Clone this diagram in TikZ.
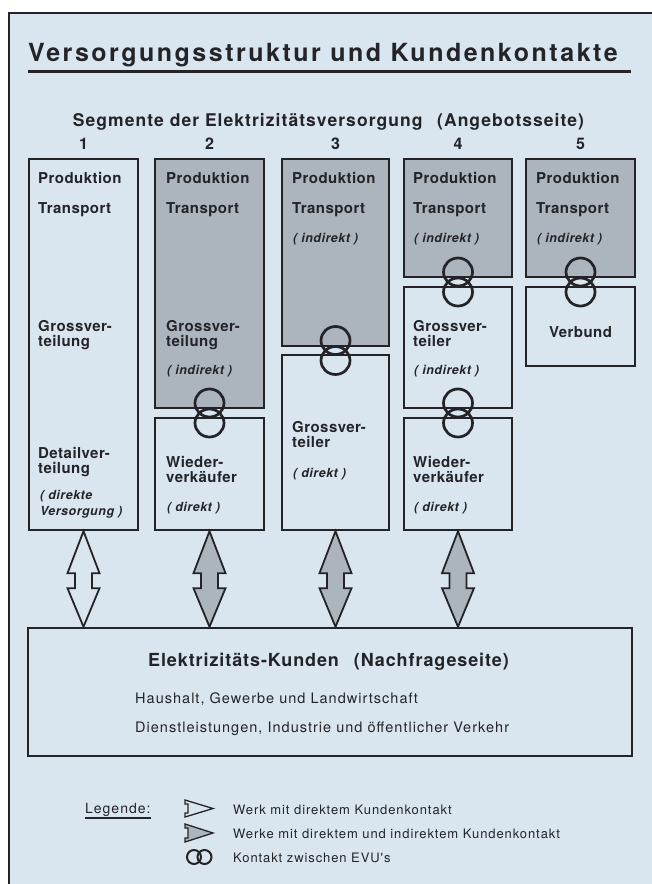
\documentclass[tikz,border=0pt]{standalone}
\usepackage{fontspec}
\setmainfont{TeX Gyre Heros}
\newfontfamily\titlefont[LetterSpace=10]{TeX Gyre Heros}
\newfontfamily\subfont[LetterSpace=6]{TeX Gyre Heros}
\newfontfamily\lblfont[LetterSpace=3]{TeX Gyre Heros}
\newfontfamily\itfont[LetterSpace=4]{TeX Gyre Heros}
\newfontfamily\kdfont[LetterSpace=5]{TeX Gyre Heros}
\newfontfamily\bodyfont[LetterSpace=7]{TeX Gyre Heros}
\usetikzlibrary{calc,fit}
\definecolor{paper}{RGB}{217,229,239}
\definecolor{shade}{RGB}{172,180,189}
\definecolor{ink}{RGB}{36,36,40}
\newcommand\dblarrow[3]{%
  \draw[blockarrow,fill=#3]
    ($(#1.south)$) -- ($(#1.south)+(16,42)$) -- ($(#1.south)+(8.5,42)$)
    -- ($(#1.south)+(8.5,57)$) -- ($(#1.south)+(16,57)$) -- (#1.south |- #2.north)
    -- ($(#1.south)+(-16,57)$) -- ($(#1.south)+(-8.5,57)$) -- ($(#1.south)+(-8.5,42)$)
    -- ($(#1.south)+(-16,42)$) -- cycle;}
\newcommand\evuring[2]{%
  \coordinate (#1#2) at ($(#1.south)!0.5!(#2.north)$);
  \draw[ring] ($(#1#2)+(0,-10)$) circle[x radius=14.5, y radius=14];
  \draw[ring] ($(#1#2)+(0,10)$) circle[x radius=14.5, y radius=14];}
\begin{document}
\begin{tikzpicture}[x=1pt,y=-1pt,
  box/.style={draw=ink,line width=2.4pt,inner sep=0pt},
  shaded/.style={fill=shade},
  ring/.style={draw=ink,line width=2.7pt},
  blockarrow/.style={draw=ink,line width=1.8pt,line join=miter},
  lbl/.style={font=\lblfont\bfseries\fontsize{15}{15}\selectfont,text=ink,inner sep=0pt,anchor=base west},
  ital/.style={font=\itfont\bfseries\itshape\fontsize{12.5}{12.5}\selectfont,text=ink,inner sep=0pt,anchor=base west},
  num/.style={font=\lblfont\bfseries\fontsize{16}{16}\selectfont,text=ink,inner sep=0pt,anchor=base},
  body/.style={font=\bodyfont\fontsize{14.5}{14.5}\selectfont,text=ink,inner sep=0pt,anchor=base west},
  legtext/.style={font=\bodyfont\fontsize{13}{13}\selectfont,text=ink,inner sep=0pt,anchor=base west},
]
\useasboundingbox (0,0) rectangle (652,884);
\fill[white] (0,0) rectangle (652,884);
\fill[paper] (9,13) rectangle (652,884);
\draw[ink,line width=1.3pt] (9,884) -- (9,13) -- (652,13);

% title
\node[font=\titlefont\bfseries\fontsize{25}{25}\selectfont,text=ink,inner sep=0pt,anchor=base west] (title) at (28,61) {Versorgungsstruktur und Kundenkontakte};
\coordinate (ul1) at (28,71);
\coordinate (ul2) at (631,71);
\draw[ink,line width=3pt] (ul1) -- (ul2);

\node[font=\subfont\bfseries\fontsize{17.5}{17.5}\selectfont,text=ink,inner sep=0pt,anchor=base] (sub) at (328.5,126) {Segmente der Elektrizitätsversorgung\hspace{0.5em} (Angebotsseite)};

% boxes
\node[box,fit={(29,159)(138,530)}] (b1) {};
\node[box,shaded,fit={(155,159)(264,408)}] (b2t) {};
\node[box,fit={(155,418)(264,530)}] (b2b) {};
\node[box,shaded,fit={(282,159)(389,346)}] (b3t) {};
\node[box,fit={(282,355)(389,530)}] (b3b) {};
\node[box,shaded,fit={(404,159)(512,277)}] (b4t) {};
\node[box,fit={(404,287)(512,408)}] (b4m) {};
\node[box,fit={(404,418)(512,530)}] (b4b) {};
\node[box,shaded,fit={(526,159)(635,277)}] (b5t) {};
\node[box,fit={(526,287)(635,366)}] (b5b) {};
\node[box,fit={(28,628)(632,756)}] (kd) {};

% numbers
\node[num] (n1) at (b1.north |- 0,149) {1};
\node[num] (n2) at (b2t.north |- 0,149) {2};
\node[num] (n3) at (b3t.north |- 0,149) {3};
\node[num] (n4) at (b4t.north |- 0,149) {4};
\node[num] (n5) at (b5t.north |- 0,149) {5};

% column 1
\node[lbl] (p1) at (38,183.5) {Produktion};
\node[lbl] (t1) at (38,213.5) {Transport};
\node[lbl] (g1a) at (38,331) {Grossver-};
\node[lbl] (g1b) at (38,346) {teilung};
\node[lbl] (d1a) at (38,458.5) {Detailver-};
\node[lbl] (d1b) at (38,473.5) {teilung};
\node[ital] (i1a) at (40,499.5) {( direkte};
\node[ital] (i1b) at (40,515.5) {Versorgung )};

% column 2
\node[lbl] (p2) at (166,183.5) {Produktion};
\node[lbl] (t2) at (166,213.5) {Transport};
\node[lbl] (g2a) at (166,331) {Grossver-};
\node[lbl] (g2b) at (166,346) {teilung};
\node[ital] (i2) at (167,374.5) {( indirekt )};
\node[lbl] (w2a) at (166,467.5) {Wieder-};
\node[lbl] (w2b) at (166,482.5) {verkäufer};
\node[ital] (i2b) at (167,511.5) {( direkt )};

% column 3
\node[lbl] (p3) at (292,183.5) {Produktion};
\node[lbl] (t3) at (292,213.5) {Transport};
\node[ital] (i3) at (293,242.5) {( indirekt )};
\node[lbl] (g3a) at (292,432.5) {Grossver-};
\node[lbl] (g3b) at (292,447.5) {teiler};
\node[ital] (i3b) at (293,477.5) {( direkt )};

% column 4
\node[lbl] (p4) at (413,183.5) {Produktion};
\node[lbl] (t4) at (413,213.5) {Transport};
\node[ital] (i4) at (414,242.5) {( indirekt )};
\node[lbl] (g4a) at (413,331) {Grossver-};
\node[lbl] (g4b) at (413,346) {teiler};
\node[ital] (i4m) at (414,374.5) {( indirekt )};
\node[lbl] (w4a) at (413,467.5) {Wieder-};
\node[lbl] (w4b) at (413,482.5) {verkäufer};
\node[ital] (i4b) at (414,511.5) {( direkt )};

% column 5
\node[lbl] (p5) at (536,183.5) {Produktion};
\node[lbl] (t5) at (536,213.5) {Transport};
\node[ital] (i5) at (537,242.5) {( indirekt )};
\node[lbl,anchor=base] (v5) at (b5b.center |- 0,337.5) {Verbund};

% contacts between EVUs
\evuring{b2t}{b2b}
\evuring{b3t}{b3b}
\evuring{b4t}{b4m}
\evuring{b4m}{b4b}
\evuring{b5t}{b5b}

% customer arrows
\dblarrow{b1}{kd}{paper}
\dblarrow{b2b}{kd}{shade}
\dblarrow{b3b}{kd}{shade}
\dblarrow{b4b}{kd}{shade}

% customers
\node[font=\kdfont\bfseries\fontsize{18}{18}\selectfont,text=ink,inner sep=0pt,anchor=base west] (kh) at (148,666.5) {Elektrizitäts-Kunden\hspace{0.5em} (Nachfrageseite)};
\node[body] (kl1) at (135,703) {Haushalt, Gewerbe und Landwirtschaft};
\node[body] (kl2) at (135,732) {Dienstleistungen, Industrie und öffentlicher Verkehr};

% legend
\node[font=\bodyfont\fontsize{14}{14}\selectfont,text=ink,inner sep=0pt,anchor=base west] (leg) at (85,813) {Legende:};
\draw[ink,line width=1.6pt] ($(leg.base west)+(0,5)$) -- ($(leg.base east)+(0,5)$);
\draw[ink,line width=1.3pt,fill=paper,line join=miter] (185,800) -- (213,808.5) -- (185,817) -- (185,813) -- (188,813) -- (188,804) -- (185,804) -- cycle;
\draw[ink,line width=1.3pt,fill=shade,line join=miter] (185,824) -- (213,833) -- (185,842) -- (185,838) -- (188,838) -- (188,828) -- (185,828) -- cycle;
\draw[ink,line width=2pt] (194,857) circle[radius=7];
\draw[ink,line width=2pt] (204.5,857) circle[radius=7];
\node[legtext] (lt1) at (233,814) {Werk mit direktem Kundenkontakt};
\node[legtext] (lt2) at (233,838) {Werke mit direktem und indirektem Kundenkontakt};
\node[legtext] (lt3) at (233,862) {Kontakt zwischen EVU's};
\end{tikzpicture}
\end{document}
